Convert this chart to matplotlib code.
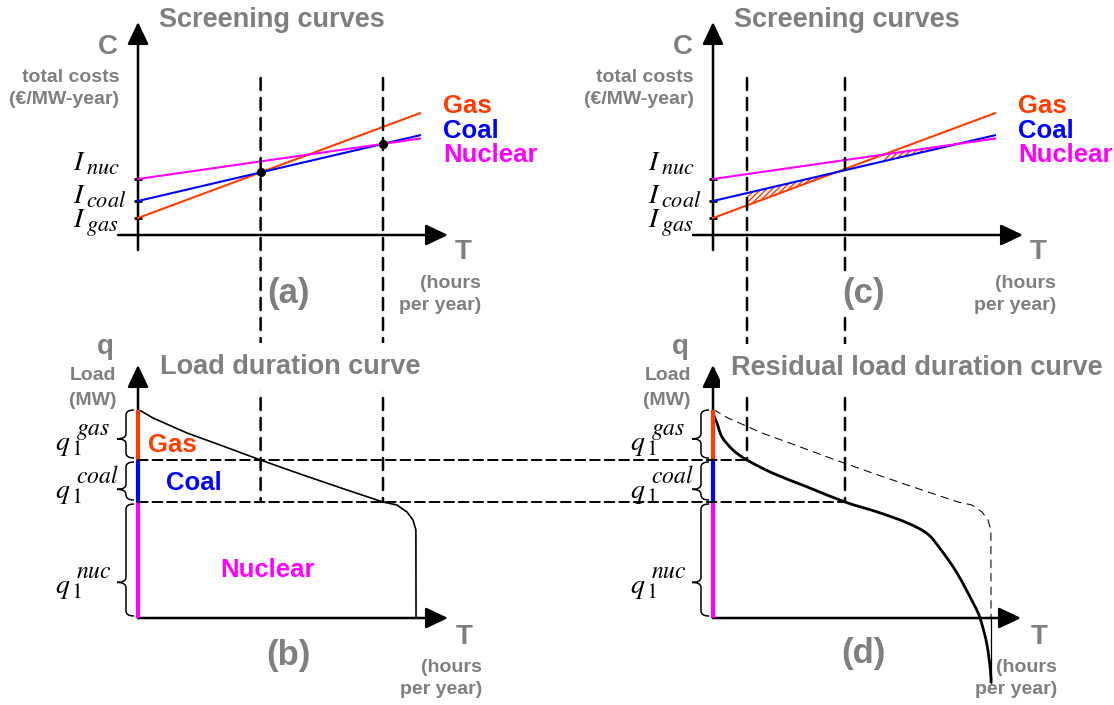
import numpy as np
import matplotlib
matplotlib.use('Agg')
import matplotlib.pyplot as plt
from matplotlib.patches import ConnectionPatch, PathPatch
from matplotlib.path import Path

plt.rcParams['font.family'] = ['Liberation Sans', 'DejaVu Sans']
plt.rcParams['mathtext.fontset'] = 'stix'
plt.rcParams['hatch.linewidth'] = 1.0

# ---------------- data ----------------
TECHS = ['Gas', 'Coal', 'Nuclear']
TECH_SUB = ['gas', 'coal', 'nuc']
TECH_COLORS = ['#ff3c00', '#0000ff', '#ff00ff']
INV_COST = [17, 34, 56]            # fixed cost (k€/MW-year)
VAR_COST = [11.8, 7.4, 4.55]       # variable cost (€/MWh)
T_LINE_END = 8885                  # hours drawn for screening lines
HOURS = 8760
CAPACITY = [500, 420, 1160]        # q1 gas, coal, nuclear (MW)

# load duration curve (hours, MW)
LDC_T = [0, 95, 473, 1544, 2583, 3860, 5198, 6585, 7719, 8160, 8475, 8664, 8755, 8760]
LDC_Q = [2080, 2070, 2000, 1850, 1730, 1580, 1430, 1280, 1160, 1130, 1060, 980, 880, 0]

# residual load duration curve (hours, MW)
RLDC_T = [0, 40, 126, 284, 630, 1071, 1891, 2952, 4159, 5150, 6092, 6742, 7152, 7678,
          8202, 8412, 8623, 8740, 8760]
RLDC_Q = [2080, 2010, 1950, 1810, 1680, 1580, 1447, 1313, 1160, 1063, 955, 845, 695, 455,
          147, 0, -253, -520, -650]

# ---------------- layout ----------------
W, H = 1114, 705
SX = 0.03174     # px per hour
SY_C = 1.0       # px per k€/MW-year
SY_Q = 0.1       # px per MW
GREY = '#7f7f7f'

fig = plt.figure(figsize=(W / 100, H / 100), dpi=100)


def panel(ox, oy, sy):
    ax = fig.add_axes([0, 0, 1, 1])
    ax.set_xlim(-ox / SX, (W - ox) / SX)
    ax.set_ylim((oy - H) / sy, oy / sy)
    ax.set_axis_off()
    ax.patch.set_alpha(0)
    return ax


def ftext(x, y, s, **kw):
    return fig.text(x / W, 1 - y / H, s, **kw)


def gtext(x, y, s, size, ha='center', **kw):
    return ftext(x, y, s, color=GREY, fontsize=size, fontweight='bold', ha=ha,
                 va='center', **kw)


ARROW = dict(arrowstyle='-|>,head_length=0.8,head_width=0.38', mutation_scale=17,
             color='k', lw=1.8, shrinkA=0, shrinkB=0)


def arrow(ax, start, end):
    ax.annotate('', xy=end, xytext=start, arrowprops=ARROW)


def cost(i, T):
    return INV_COST[i] + VAR_COST[i] * np.asarray(T, dtype=float) / 1000.0


def cross(i, j):
    return (INV_COST[j] - INV_COST[i]) / (VAR_COST[i] - VAR_COST[j]) * 1000.0


def smooth_path(xs, ys):
    P = np.column_stack([xs, ys]).astype(float)
    n = len(P)
    verts, codes = [P[0]], [Path.MOVETO]
    for i in range(n - 1):
        p0 = P[i - 1] if i > 0 else P[i]
        p3 = P[i + 2] if i + 2 < n else P[i + 1]
        verts += [P[i] + (P[i + 1] - p0) / 6, P[i + 1] - (p3 - P[i]) / 6, P[i + 1]]
        codes += [Path.CURVE4] * 3
    return Path(verts, codes)


def brace(ax, q_lo, q_hi, tip_frac, x_end, x_body, x_tip, r):
    q_mid = q_lo + tip_frac * (q_hi - q_lo)
    verts = [(x_end, q_hi), (x_body, q_hi), (x_body, q_hi - r),
             (x_body, q_mid + r), (x_body, q_mid), (x_tip, q_mid),
             (x_body, q_mid), (x_body, q_mid - r),
             (x_body, q_lo + r), (x_body, q_lo), (x_end, q_lo)]
    codes = [Path.MOVETO, Path.CURVE3, Path.CURVE3,
             Path.LINETO, Path.CURVE3, Path.CURVE3,
             Path.CURVE3, Path.CURVE3,
             Path.LINETO, Path.CURVE3, Path.CURVE3]
    ax.add_patch(PathPatch(Path(verts, codes), fill=False, lw=1.1, color='k',
                           clip_on=False))


T_gc = cross(0, 1)
T_cn = cross(1, 2)
T_gn = cross(0, 2)
Q_NUC_TOP = CAPACITY[2]
Q_COAL_TOP = CAPACITY[2] + CAPACITY[1]
Q_PEAK = sum(CAPACITY)
T1_res = float(np.interp(Q_COAL_TOP, RLDC_Q[::-1], RLDC_T[::-1]))
T2_res = float(np.interp(Q_NUC_TOP, RLDC_Q[::-1], RLDC_T[::-1]))

C_TOP_DASH = 157     # top of the vertical dashed guides (k€/MW-year)
T_AX_END = 9767      # arrow tip of the T axes

ax_a = panel(138, 235, SY_C)
ax_c = panel(713, 235, SY_C)
ax_b = panel(138, 618, SY_Q)
ax_d = panel(713, 618, SY_Q)

MASK = dict(facecolor='white', edgecolor='none', pad=8)

# ---------- screening curve panels ----------
for ax, ox in [(ax_a, 138), (ax_c, 713)]:
    arrow(ax, (0, -15), (0, 213))
    arrow(ax, (-630, 0), (T_AX_END, 0))
    Tl = np.array([0, T_LINE_END])
    for i in range(3):
        ax.plot(Tl, cost(i, Tl), color=TECH_COLORS[i], lw=1.5, zorder=3)
        ax.plot([-4 / SX, 4 / SX], [INV_COST[i], INV_COST[i]], color='k', lw=2,
                solid_capstyle='butt')
    gtext(ox + 21, 20, 'Screening curves', 19.5, ha='left')
    gtext(ox - 30, 47, 'C', 20)
    gtext(ox - 19, 77, 'total costs', 14, ha='right')
    gtext(ox - 19, 99, '(€/MW-year)', 14, ha='right')
    for s, yb in zip(['nuc', 'coal', 'gas'], [170, 203, 227]):
        ftext(ox - 65, yb, r'$I$', fontsize=20, ha='left', va='baseline')
        ftext(ox - 52, yb + 4, r'$%s$' % s, fontsize=16, ha='left', va='baseline')
    for i, yc in zip(range(3), [106, 131, 155]):
        ftext(ox + 305, yc, TECHS[i], color=TECH_COLORS[i], fontsize=18.5,
              fontweight='bold', ha='left', va='center')
    gtext(ox + 325, 252, 'T', 20)
    gtext(ox + 343, 283, '(hours', 14, ha='right')
    gtext(ox + 343, 306, 'per year)', 14, ha='right')

gtext(138 + 151, 293, '(a)', 25)
gtext(713 + 151, 293, '(c)', 25, bbox=dict(facecolor='white', edgecolor='none', pad=1))

# intersection dots (a)
ax_a.plot([T_gc, T_cn], [cost(0, T_gc), cost(1, T_cn)], 'o', color='k', ms=5.5, zorder=5)

# hatched areas (c)
x1 = np.linspace(T1_res, T_gc, 60)
ax_c.fill_between(x1, cost(0, x1), cost(1, x1), facecolor='white',
                  edgecolor=TECH_COLORS[0], hatch='//////', lw=0, zorder=2)
x2 = np.linspace(T_gn, T_cn, 60)
ax_c.fill_between(x2, cost(1, x2), np.minimum(cost(2, x2), cost(0, x2)), facecolor='white',
                  edgecolor=TECH_COLORS[0], hatch='//////', lw=0, zorder=2)

# ---------- load duration panels ----------
bounds = [(Q_COAL_TOP, Q_PEAK), (Q_NUC_TOP, Q_COAL_TOP), (0, Q_NUC_TOP)]
for ax, ox in [(ax_b, 138), (ax_d, 713)]:
    arrow(ax, (0, 0), (0, 2530))
    arrow(ax, (0, 0), (T_AX_END if ax is ax_b else 9704, 0))
    for i, (lo, hi) in enumerate(bounds):
        ax.plot([0, 0], [lo, hi], color=TECH_COLORS[i], lw=3, solid_capstyle='butt',
                zorder=4)
    for (lo, hi), frac in zip(bounds, [0.4, 0.28, 0.3]):
        brace(ax, lo + 20, hi - 20 if hi != Q_PEAK else hi, frac,
              -4 / SX, -12 / SX, -21 / SX, 50)
    gtext(ox - 33, 347, 'q', 20)
    gtext(ox - 22, 375, 'Load', 14, ha='right')
    gtext(ox - 22, 400, '(MW)', 14, ha='right')
    for s, yb in zip(TECH_SUB, [450, 498, 593]):
        ftext(ox - 83, yb, r'$q$', fontsize=20, ha='left', va='baseline')
        ftext(ox - 67, yb + 5, r'$1$', fontsize=16, ha='left', va='baseline')
        ftext(ox - 62, yb - 15, r'$%s$' % s, fontsize=17, ha='left', va='baseline')
    gtext(ox + 326, 637, 'T', 20)
    gtext(ox + 344, 668, '(hours', 14, ha='right')
    gtext(ox + 344, 690, 'per year)', 14, ha='right')

gtext(160, 367, 'Load duration curve', 19.5, ha='left', bbox=MASK)
gtext(731, 368, 'Residual load duration curve', 19.5, ha='left', bbox=MASK)
gtext(138 + 150, 655, '(b)', 25)
gtext(713 + 150, 653, '(d)', 25)

# b: LDC and tech labels
ax_b.plot(LDC_T, LDC_Q, color='k', lw=1.2, zorder=3)
for i, (x, y) in enumerate([(172, 445), (194, 483), (268, 570)]):
    ftext(x, y, TECHS[i], color=TECH_COLORS[i], fontsize=18.5, fontweight='bold',
          ha='center', va='center')

# d: residual LDC, original LDC dashed
ax_d.plot(LDC_T, LDC_Q, color='k', lw=0.75, linestyle=(0, (8, 5)), zorder=3)
ax_d.plot([HOURS, HOURS], [0, RLDC_Q[-1]], color='k', lw=0.9, zorder=3)
ax_d.add_patch(PathPatch(smooth_path(RLDC_T, RLDC_Q), fill=False, lw=2.0, color='k',
                         zorder=3, clip_on=False))

# ---------- dashed guide lines across panels ----------
VDASH = dict(color='k', lw=1.8, linestyle=(0, (4.8, 3.2)))
HDASH = dict(color='k', lw=1.4, linestyle=(0, (5.0, 2.5)))
for axt, axb_, T, q in [(ax_a, ax_b, T_gc, Q_NUC_TOP), (ax_a, ax_b, T_cn, Q_NUC_TOP),
                        (ax_c, ax_d, T1_res, Q_COAL_TOP), (ax_c, ax_d, T2_res, Q_NUC_TOP)]:
    con = ConnectionPatch(xyA=(T, C_TOP_DASH), coordsA=axt.transData,
                          xyB=(T, q), coordsB=axb_.transData, **VDASH)
    fig.add_artist(con)
for T, q in [(T1_res, Q_COAL_TOP), (T2_res, Q_NUC_TOP)]:
    con = ConnectionPatch(xyA=(0, q), coordsA=ax_b.transData,
                          xyB=(T, q), coordsB=ax_d.transData, **HDASH)
    fig.add_artist(con)

fig.savefig('out.png', dpi=100)
